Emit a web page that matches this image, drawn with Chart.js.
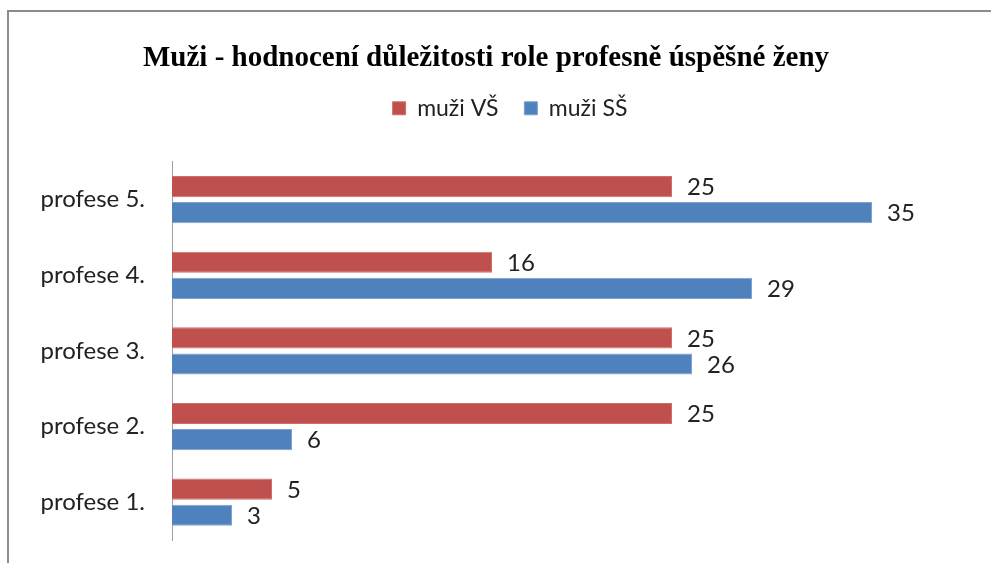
<!DOCTYPE html>
<html>
<head>
<meta charset="utf-8">
<script src="https://cdn.jsdelivr.net/npm/chart.js@4"></script>
<style>
  html, body { margin: 0; padding: 0; background: #fff; }
  #wrap { position: relative; width: 991px; height: 563px; }
  #frame { position: absolute; left: 7px; top: 10px; right: -10px; bottom: -10px; border-left: 2px solid #8c8c8c; border-top: 2px solid #8c8c8c; }
  canvas { position: absolute; left: 0; top: 0; }
</style>
</head>
<body>
<div id="wrap">
  <div id="frame"></div>
  <canvas id="chart" width="991" height="563"></canvas>
</div>
<script>
// Data
const categories = ['profese 5.', 'profese 4.', 'profese 3.', 'profese 2.', 'profese 1.'];
const muziVS = [25, 16, 25, 25, 5];
const muziSS = [35, 29, 26, 6, 3];

// value labels next to the bar ends
const valueLabels = {
    id: 'valueLabels',
    afterDatasetsDraw(chart) {
        const ctx = chart.ctx;
        ctx.save();
        ctx.font = '24px Lato';
        ctx.fillStyle = '#222';
        ctx.textBaseline = 'middle';
        ctx.textAlign = 'left';
        chart.data.datasets.forEach((ds, i) => {
            chart.getDatasetMeta(i).data.forEach((bar, j) => {
                ctx.fillText(ds.data[j], bar.x + 15, bar.y + 1);
            });
        });
        ctx.restore();
    }
};

// extra room under the legend, and legend nudged right like the original
const legendTweak = {
    id: 'legendTweak',
    beforeInit(chart) {
        const fit = chart.legend.fit;
        chart.legend.fit = function () {
            fit.bind(chart.legend)();
            this.height += 32;
        };
    },
    afterLayout(chart) {
        chart.legend.left += 24;
        chart.legend.right += 24;
    }
};

const ctx = document.getElementById('chart').getContext('2d');
new Chart(ctx, {
    type: 'bar',
    data: {
        labels: categories,
        datasets: [{
            label: 'muži VŠ',
            data: muziVS,
            backgroundColor: '#C0504D',
            borderColor: '#CF6F6C',
            borderWidth: 1,
            categoryPercentage: 0.69,
            barPercentage: 0.81
        }, {
            label: 'muži SŠ',
            data: muziSS,
            backgroundColor: '#4F81BD',
            borderColor: '#7FA2CF',
            borderWidth: 1,
            categoryPercentage: 0.69,
            barPercentage: 0.81
        }]
    },
    options: {
        indexAxis: 'y',
        responsive: false,
        animation: false,
        layout: {
            padding: { top: 41, right: 19, bottom: 23, left: 0 }
        },
        scales: {
            x: {
                display: false,
                min: 0,
                max: 40
            },
            y: {
                afterFit(scale) {
                    scale.width = 172;
                    scale.paddingTop = 0;
                    scale.paddingBottom = 0;
                },
                grid: { display: false, drawTicks: false },
                border: { display: true, color: '#a0a0a0', width: 1 },
                ticks: {
                    color: '#222',
                    font: { family: 'Lato', size: 24 },
                    padding: 27
                }
            }
        },
        plugins: {
            title: {
                display: true,
                text: 'Muži - hodnocení důležitosti role profesně úspěšné ženy',
                color: '#000',
                font: { family: 'Liberation Serif', size: 29, weight: 'bold' },
                padding: { top: 0, bottom: -5 }
            },
            legend: {
                display: true,
                labels: {
                    color: '#222',
                    font: { family: 'Lato', size: 23 },
                    boxWidth: 13,
                    boxHeight: 13,
                    padding: 26
                }
            },
            tooltip: { enabled: false }
        }
    },
    plugins: [valueLabels, legendTweak]
});
</script>
</body>
</html>
